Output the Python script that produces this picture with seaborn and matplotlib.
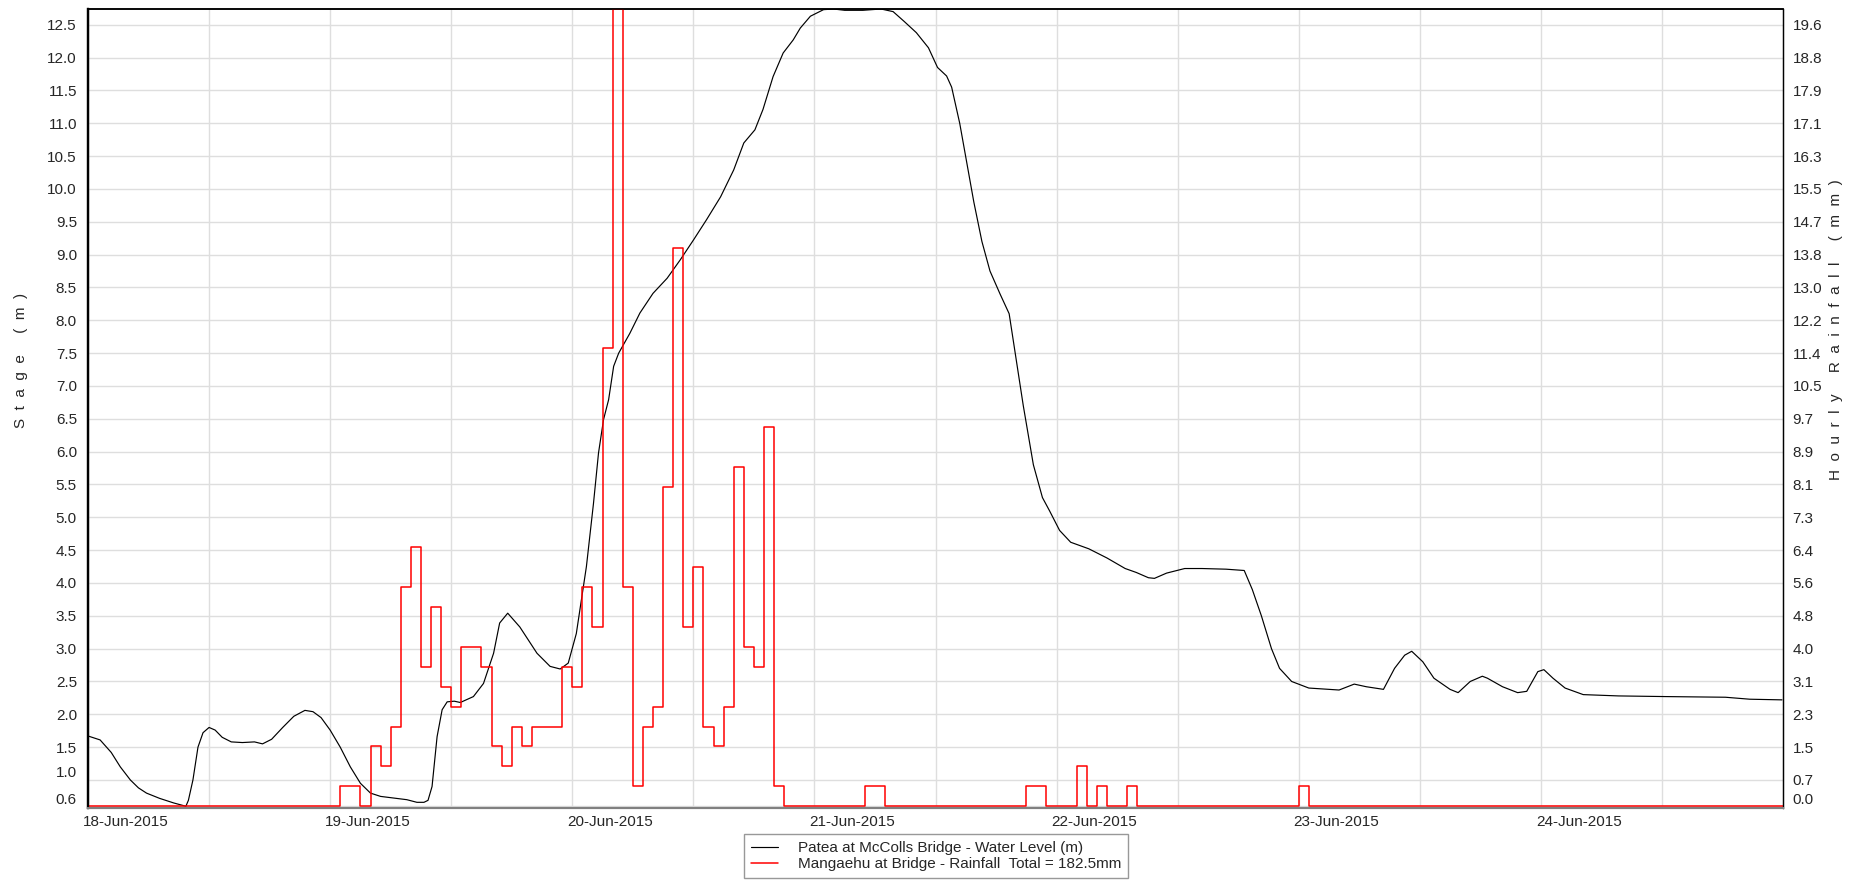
import matplotlib
matplotlib.use("Agg")
import matplotlib.pyplot as plt
import matplotlib.dates as mdates
import matplotlib.transforms as mtransforms
import numpy as np
import pandas as pd
import seaborn as sns

# ---- data -------------------------------------------------------------
start = pd.Timestamp("2015-06-18 00:00")

# Patea at McColls Bridge - water level (hours after start, metres)
stage_hours = [0, 1.2, 2.3, 3.2, 4.2, 5.0, 5.8, 7.1, 8.5, 9.7, 9.95, 10.4, 10.9, 11.4,
               12.0, 12.6, 13.3, 14.2, 15.3, 16.5, 17.3, 18.2, 19.3, 20.4, 21.5, 22.3,
               23.1, 24.0, 25.0, 26.0, 27.0, 28.0, 29.0, 30.6, 31.6, 32.6, 33.3, 33.7,
               34.1, 34.6, 35.1, 35.6, 36.3, 36.9, 38.2, 39.2, 40.2, 40.8, 41.6, 42.8,
               44.5, 45.8, 46.8, 47.6, 48.4, 49.4, 50.1, 50.6, 51.1, 51.6, 52.1, 52.6,
               53.7, 54.7, 56.0, 57.4, 58.7, 60.0, 61.3, 62.7, 64.0, 65.0, 66.1, 66.9,
               67.9, 68.9, 69.9, 70.6, 71.6, 72.9, 73.9, 75.0, 76.8, 78.6, 79.8, 80.9,
               82.1, 83.3, 84.2, 85.1, 85.6, 86.4, 87.1, 87.8, 88.6, 89.4, 90.4, 91.3,
               91.9, 92.7, 93.7, 94.6, 95.3, 96.3, 97.4, 99.2, 101.0, 102.8, 103.9, 105.1,
               105.7, 106.9, 108.7, 110.4, 112.8, 114.6, 115.4, 116.3, 117.3, 118.1, 119.3,
               121.0, 124.0, 125.5, 126.7, 128.4, 129.5, 130.5, 131.2, 132.3, 133.4, 135.0,
               135.8, 137.0, 138.2, 138.7, 140.2, 141.7, 142.6, 143.7, 144.3, 145.2, 146.4,
               148.2, 151.7, 156.4, 162.3, 164.7, 167.9]
stage_m = [1.67, 1.61, 1.42, 1.20, 1.00, 0.88, 0.80, 0.72, 0.65, 0.60, 0.69, 1.00, 1.50, 1.72,
           1.80, 1.76, 1.65, 1.58, 1.57, 1.58, 1.55, 1.62, 1.80, 1.97, 2.06, 2.04,
           1.95, 1.76, 1.50, 1.20, 0.95, 0.80, 0.75, 0.72, 0.70, 0.66, 0.66, 0.69,
           0.90, 1.66, 2.07, 2.19, 2.20, 2.18, 2.27, 2.47, 2.93, 3.39, 3.54, 3.33,
           2.93, 2.73, 2.69, 2.78, 3.23, 4.25, 5.21, 5.98, 6.49, 6.79, 7.30, 7.50,
           7.80, 8.11, 8.41, 8.64, 8.92, 9.22, 9.53, 9.88, 10.29, 10.70, 10.90, 11.21,
           11.71, 12.07, 12.27, 12.45, 12.63, 12.73, 12.74, 12.72, 12.72, 12.74, 12.70, 12.55,
           12.38, 12.15, 11.85, 11.72, 11.55, 11.00, 10.40, 9.80, 9.20, 8.75, 8.40, 8.10,
           7.50, 6.70, 5.80, 5.30, 5.10, 4.80, 4.62, 4.52, 4.38, 4.22, 4.16, 4.08,
           4.07, 4.15, 4.22, 4.22, 4.21, 4.19, 3.90, 3.50, 3.00, 2.70, 2.50,
           2.40, 2.37, 2.46, 2.42, 2.38, 2.70, 2.90, 2.96, 2.80, 2.55, 2.38,
           2.33, 2.50, 2.58, 2.55, 2.42, 2.33, 2.35, 2.65, 2.68, 2.55, 2.40,
           2.30, 2.28, 2.27, 2.26, 2.23, 2.22]

# Mangaehu at Bridge - hourly rainfall (hour index after start, mm); other hours are 0
rain_hour = [25, 26, 28, 29, 30, 31, 32, 33, 34, 35, 36, 37, 38, 39, 40, 41, 42, 43,
             44, 45, 46, 47, 48, 49, 50, 51, 52, 53, 54, 55, 56, 57, 58, 59, 60, 61,
             62, 63, 64, 65, 66, 67, 68, 77, 78, 93, 94, 98, 100, 103, 120]
rain_mm = [0.5, 0.5, 1.5, 1.0, 2.0, 5.5, 6.5, 3.5, 5.0, 3.0, 2.5, 4.0, 4.0, 3.5, 1.5, 1.0, 2.0, 1.5,
           2.0, 2.0, 2.0, 3.5, 3.0, 5.5, 4.5, 11.5, 20.0, 5.5, 0.5, 2.0, 2.5, 8.0, 14.0, 4.5, 6.0, 2.0,
           1.5, 2.5, 8.5, 4.0, 3.5, 9.5, 0.5, 0.5, 0.5, 0.5, 0.5, 1.0, 0.5, 0.5, 0.5]

stage_ticks = [0.6, 1.0, 1.5, 2.0, 2.5, 3.0, 3.5, 4.0, 4.5, 5.0, 5.5, 6.0, 6.5, 7.0,
               7.5, 8.0, 8.5, 9.0, 9.5, 10.0, 10.5, 11.0, 11.5, 12.0, 12.5]
rain_tick_labels = ["0.0", "0.7", "1.5", "2.3", "3.1", "4.0", "4.8", "5.6", "6.4", "7.3",
                    "8.1", "8.9", "9.7", "10.5", "11.4", "12.2", "13.0", "13.8", "14.7",
                    "15.5", "16.3", "17.1", "17.9", "18.8", "19.6"]

stage_label = "Patea at McColls Bridge - Water Level (m)"
rain_label = "Mangaehu at Bridge - Rainfall  Total = 182.5mm"

# ---- frames -----------------------------------------------------------
stage_df = pd.DataFrame({
    "time": start + pd.to_timedelta(stage_hours, unit="h"),
    "stage": stage_m,
})
hourly = pd.Series(0.0, index=range(0, 169))
hourly.loc[rain_hour] = rain_mm
rain_df = pd.DataFrame({
    "time": start + pd.to_timedelta(hourly.index, unit="h"),
    "rain": hourly.values,
})

# ---- style ------------------------------------------------------------
sns.set_style("white")
plt.rcParams["font.family"] = ["Liberation Sans", "DejaVu Sans"]
plt.rcParams["font.size"] = 11

fig = plt.figure(figsize=(18.66, 8.82), dpi=100)
ax = fig.add_axes([88 / 1866, 1 - 807.7 / 882, (1783 - 88) / 1866, (807.7 - 9) / 882])
ax2 = ax.twinx()

stage_lo, stage_hi = 0.578, 12.74
rain_per_m = 19.6 / 11.9
ax.set_ylim(stage_lo, stage_hi)
ax2.set_ylim((stage_lo - 0.6) * rain_per_m, (stage_hi - 0.6) * rain_per_m)

sns.lineplot(data=stage_df, x="time", y="stage", ax=ax, color="black",
             linewidth=0.85, estimator=None, sort=False, label=stage_label)
sns.lineplot(data=rain_df, x="time", y="rain", ax=ax2, color="#ff0000",
             linewidth=1.1, estimator=None, drawstyle="steps-post", label=rain_label)

# x axis: day ticks, 12-hour grid
ax.set_xlim(start, start + pd.Timedelta(days=7))
ax.xaxis.set_major_locator(mdates.DayLocator())
ax.xaxis.set_minor_locator(mdates.HourLocator(byhour=[12]))
ax.xaxis.set_major_formatter(mdates.DateFormatter("%d-%b-%Y"))
ax.set_xticks([start + pd.Timedelta(days=d) for d in range(7)])
ax.tick_params(axis="x", which="both", length=0, pad=5, labelsize=11)
shift_left = mtransforms.ScaledTranslation(-5 / 100, 0, fig.dpi_scale_trans)
for lab in ax.get_xticklabels():
    lab.set_horizontalalignment("left")
    lab.set_transform(lab.get_transform() + shift_left)

# y axes
ax.set_yticks(stage_ticks)
ax.set_yticklabels([f"{v:.1f}" for v in stage_ticks])
ax.tick_params(axis="y", length=0, pad=8, labelsize=11)
ax2.set_yticks([(v - 0.6) * rain_per_m for v in stage_ticks])
ax2.set_yticklabels(rain_tick_labels)
ax2.tick_params(axis="y", length=0, pad=7, labelsize=11)
lift = mtransforms.ScaledTranslation(0, 8 / 100, fig.dpi_scale_trans)
for t in (ax.yaxis.get_major_ticks()[0], ax.yaxis.get_major_ticks()[1]):
    t.label1.set_transform(t.label1.get_transform() + lift)
t0 = ax2.yaxis.get_major_ticks()[0]
t0.label2.set_transform(t0.label2.get_transform() + lift)

ax.set_xlabel("")
ax.set_ylabel("")
ax2.set_ylabel("")

ax.grid(True, which="both", axis="x", color="#dedede", linewidth=1.0)
ax.grid(True, which="major", axis="y", color="#dedede", linewidth=1.0)
ax.set_axisbelow(True)

for a in (ax, ax2):
    a.spines["left"].set_color("black")
    a.spines["left"].set_linewidth(1.6)
    a.spines["top"].set_color("black")
    a.spines["top"].set_linewidth(1.1)
    a.spines["right"].set_color("black")
    a.spines["right"].set_linewidth(0.9)
    a.spines["bottom"].set_color("#808080")
    a.spines["bottom"].set_linewidth(1.5)

fig.text(21 / 1866, 1 - 360 / 882, "S  t  a  g  e     (  m  )", rotation=90,
         ha="center", va="center", fontsize=11)
fig.text(1836 / 1866, 1 - 330 / 882,
         "H  o  u  r  l  y     R  a  i  n  f  a  l  l     (  m  m  )",
         rotation=90, ha="center", va="center", fontsize=11)

# legend below the plot
h1, l1 = ax.get_legend_handles_labels()
h2, l2 = ax2.get_legend_handles_labels()
for a in (ax, ax2):
    if a.get_legend() is not None:
        a.get_legend().remove()
leg = fig.legend(h1 + h2, l1 + l2, loc="upper center",
                 bbox_to_anchor=(936 / 1866, 1 - 834 / 882),
                 frameon=True, fancybox=False, shadow=False, fontsize=11,
                 handlelength=1.75, handletextpad=1.3, labelspacing=0.15,
                 borderpad=0.45, borderaxespad=0)
leg.get_frame().set_edgecolor("#7f7f7f")
leg.get_frame().set_linewidth(1.0)

fig.savefig("out.png", dpi=100)
